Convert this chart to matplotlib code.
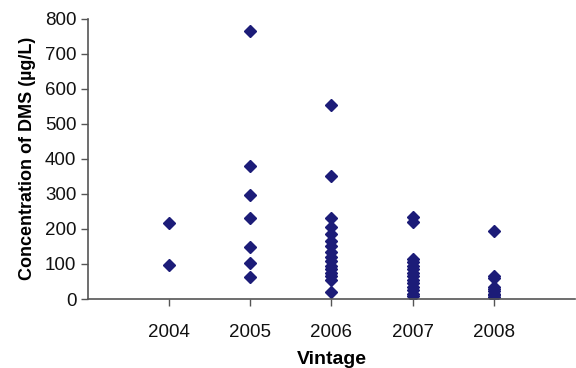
import matplotlib
matplotlib.use("Agg")
import matplotlib.pyplot as plt

plt.rcParams['font.family'] = ['Liberation Sans', 'DejaVu Sans']

vintages = ["2004", "2005", "2006", "2007", "2008"]
dms_2004 = [216, 97]
dms_2005 = [764, 380, 297, 232, 149, 102, 64]
dms_2006 = [554, 351, 230, 205, 185, 165, 150, 135, 120, 108, 95, 85, 75, 65, 55, 20]
dms_2007 = [233, 220, 115, 105, 95, 85, 75, 65, 55, 45, 35, 25, 15, 8]
dms_2008 = [195, 65, 60, 35, 28, 22, 15, 10, 5]
series = [dms_2004, dms_2005, dms_2006, dms_2007, dms_2008]
yticks = [0, 100, 200, 300, 400, 500, 600, 700, 800]

fig = plt.figure(figsize=(5.76, 3.68), dpi=100)
ax = fig.add_axes([0.153, 0.1875, 0.845, 0.762])
for i, vals in enumerate(series):
    ax.plot([i + 1] * len(vals), vals, linestyle='none', marker='D',
            ms=6, color='#1c1c78', mec='#1c1c78')

ax.set_xlim(0, 6)
ax.set_ylim(0, 800)
ax.set_xticks(range(1, 6))
ax.set_xticklabels(vintages)
ax.set_yticks(yticks)
for s in ['top', 'right']:
    ax.spines[s].set_visible(False)
for s in ['left', 'bottom']:
    ax.spines[s].set_color('#555555')
    ax.spines[s].set_linewidth(1.2)
ax.tick_params(axis='both', direction='out', length=5, width=1.0, color='#555555',
               labelsize=13.5, labelcolor='#111111')
ax.tick_params(axis='x', pad=13)
ax.set_xlabel('Vintage', fontsize=14, fontweight='bold', labelpad=7)
ax.set_ylabel('Concentration of DMS (µg/L)', fontsize=13, fontweight='bold', labelpad=6)

fig.savefig('out.png', dpi=100)
